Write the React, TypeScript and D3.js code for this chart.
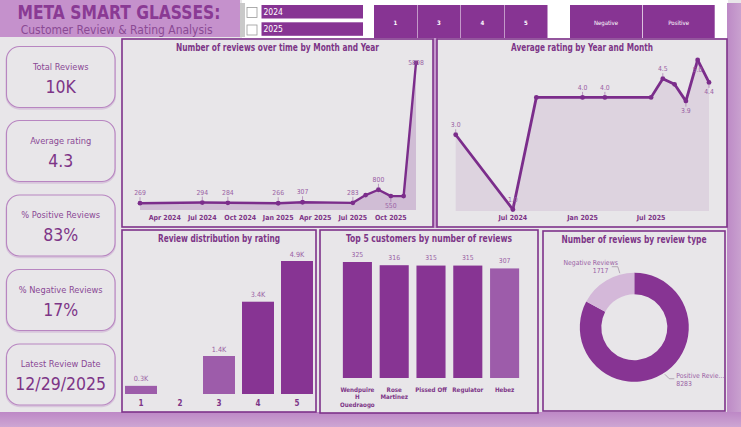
import React from 'react';
import * as d3 from 'd3';

// ---------- DATA ----------
const months = ['2024-02', '2024-07', '2024-09', '2025-01', '2025-03', '2025-07', '2025-08', '2025-09', '2025-10', '2025-11', '2025-12'];
const reviewCounts = [269, 294, 284, 266, 307, 283, 590, 800, 550, 549, 5808];
const countLabelPos = ['above', 'above', 'above', 'above', 'above', 'above', 'none', 'above', 'below', 'none', 'center'];
const avgRatings = [3.0, 1.0, 4.0, 4.0, 4.0, 4.0, 4.5, 4.35, 3.9, 5.0, 4.4];
const ratingLabelPos = ['above', 'above', 'none', 'above', 'above', 'none', 'above', 'none', 'below', 'below', 'below'];

const ratings = ['1', '2', '3', '4', '5'];
const ratingCounts = [300, 0, 1400, 3400, 4900];

const customers = ['Wendpuire H Ouedraogo', 'Rose Martinez', 'Pissed Off', 'Regulator', 'Hebez'];
const customerLines = [['Wendpuire', 'H', 'Ouedraogo'], ['Rose', 'Martinez'], ['Pissed Off'], ['Regulator'], ['Hebez']];
const customerCounts = [325, 316, 315, 315, 307];

const reviewTypes = ['Positive Reviews', 'Negative Reviews'];
const reviewTypeShort = ['Positive Revie...', 'Negative Reviews'];
const reviewTypeCounts = [8283, 1717];

const kpiLabels = ['Total Reviews', 'Average rating', '% Positive Reviews', '% Negative Reviews', 'Latest Review Date'];
const kpiValues = ['10K', '4.3', '83%', '17%', '12/29/2025'];

const years = ['2024', '2025'];
const ratingButtons = ['1', '3', '4', '5'];
const typeButtons = ['Negative', 'Positive'];

// ---------- STYLE ----------
const W = 741, H = 427;
const FONT = "'DejaVu Sans Condensed','DejaVu Sans',Roboto,sans-serif";
const DARK = '#873493';
const LIGHT = '#9d5caa';
const LINE = '#7b2d8b';
const BORDER = '#7e328a';
const PANEL = '#e8e6e9';
const LAV = '#c497cc';
const TXT = '#7d3587';
const LBL = '#9a62a5';

const parse = d3.timeParse('%Y-%m');
const dates = months.map(m => parse(m) as Date);

function Panel({ x, y, w, h, title, tw }: any) {
  return (
    <g>
      <rect x={x} y={y} width={w} height={h} fill={PANEL} stroke={BORDER} strokeWidth={1.6} />
      <text x={x + w / 2} y={y + 8.5} textAnchor="middle" dominantBaseline="central" fontFamily={FONT}
        fontWeight="bold" fontSize={10} fill={TXT} textLength={tw} lengthAdjust="spacingAndGlyphs">{title}</text>
    </g>
  );
}

function LineChart1() {
  const x = d3.scaleTime().domain([dates[0], dates[dates.length - 1]]).range([140, 416]);
  const y = d3.scaleLinear().domain([0, 5808]).range([210, 63]);
  const line = d3.line<number>().x((_, i) => x(dates[i])).y(d => y(d));
  const area = d3.area<number>().x((_, i) => x(dates[i])).y0(y(0)).y1(d => y(d));
  const ticks = x.ticks(d3.timeMonth.every(3) as any);
  const fmt = d3.timeFormat('%b %Y');
  return (
    <g>
      <Panel x={122} y={39} w={311} h={188} title="Number of reviews over time by Month and Year" tw={203} />
      <path d={area(reviewCounts) || ''} fill={LINE} fillOpacity={0.22} />
      <path d={line(reviewCounts) || ''} fill="none" stroke={LINE} strokeWidth={2.4} strokeLinejoin="round" />
      {reviewCounts.map((v, i) => (
        <circle key={i} cx={x(dates[i])} cy={y(v)} r={2.4} fill={LINE} />
      ))}
      {reviewCounts.map((v, i) => {
        const p = countLabelPos[i];
        if (p === 'none') return null;
        const px = x(dates[i]), py = y(v);
        const ly = p === 'above' ? py - 10 : p === 'below' ? py + 10 : py;
        return (
          <g key={i}>
            {p !== 'center' && <line x1={px} x2={px} y1={p === 'above' ? py - 2.5 : py + 2.5} y2={p === 'above' ? py - 6 : py + 6} stroke={LBL} strokeWidth={0.6} />}
            <text x={px} y={ly} textAnchor="middle" dominantBaseline="central" fontFamily={FONT} fontSize={6.8} fill={LBL}>{v}</text>
          </g>
        );
      })}
      {ticks.map((t, i) => (
        <text key={i} x={x(t)} y={218} textAnchor="middle" dominantBaseline="central" fontFamily={FONT}
          fontWeight="bold" fontSize={7} fill={TXT}>{fmt(t)}</text>
      ))}
    </g>
  );
}

function LineChart2() {
  const x = d3.scaleTime().domain([dates[0], dates[dates.length - 1]]).range([455.7, 709]);
  const y = d3.scaleLinear().domain([0.96, 5]).range([211, 60]);
  const line = d3.line<number>().x((_, i) => x(dates[i])).y(d => y(d));
  const area = d3.area<number>().x((_, i) => x(dates[i])).y0(y(0.96)).y1(d => y(d));
  const ticks = x.ticks(d3.timeMonth.every(6) as any);
  const fmt = d3.timeFormat('%b %Y');
  return (
    <g>
      <Panel x={437} y={39} w={290} h={188} title="Average rating by Year and Month" tw={142} />
      <path d={area(avgRatings) || ''} fill={LINE} fillOpacity={0.1} />
      <path d={line(avgRatings) || ''} fill="none" stroke={LINE} strokeWidth={2.8} strokeLinejoin="round" />
      {avgRatings.map((v, i) => (
        <circle key={i} cx={x(dates[i])} cy={y(v)} r={2.4} fill={LINE} />
      ))}
      {avgRatings.map((v, i) => {
        const p = ratingLabelPos[i];
        if (p === 'none') return null;
        const px = x(dates[i]), py = y(v);
        const ly = p === 'above' ? py - 9.5 : py + 9.5;
        return (
          <g key={i}>
            <line x1={px} x2={px} y1={p === 'above' ? py - 2.5 : py + 2.5} y2={p === 'above' ? py - 5.5 : py + 5.5} stroke={LBL} strokeWidth={0.6} />
            <text x={px} y={ly} textAnchor="middle" dominantBaseline="central" fontFamily={FONT} fontSize={6.8} fill={LBL}>{v.toFixed(1)}</text>
          </g>
        );
      })}
      {ticks.map((t, i) => (
        <text key={i} x={x(t)} y={218} textAnchor="middle" dominantBaseline="central" fontFamily={FONT}
          fontWeight="bold" fontSize={7} fill={TXT}>{fmt(t)}</text>
      ))}
    </g>
  );
}

function RatingBars() {
  const x = d3.scaleBand().domain(ratings).range([121.5, 316.5]).paddingInner(0.18).paddingOuter(0.09);
  const y = d3.scaleLinear().domain([0, 4900]).range([394, 261]);
  return (
    <g>
      <Panel x={122} y={230} w={194} h={182} title="Review distribution by rating" tw={122} />
      {ratings.map((r, i) => {
        const v = ratingCounts[i];
        if (!v) return null;
        return (
          <g key={r}>
            <rect x={x(r)} y={y(v)} width={x.bandwidth()} height={y(0) - y(v)} fill={v < 2000 ? LIGHT : DARK} />
            <text x={(x(r) as number) + x.bandwidth() / 2} y={y(v) - 7} textAnchor="middle" dominantBaseline="central"
              fontFamily={FONT} fontSize={7.2} fill={LBL}>{(v / 1000).toFixed(1)}K</text>
          </g>
        );
      })}
      {ratings.map(r => (
        <text key={r} x={(x(r) as number) + x.bandwidth() / 2} y={403} textAnchor="middle" dominantBaseline="central"
          fontFamily={FONT} fontWeight="bold" fontSize={8} fill={TXT}>{r}</text>
      ))}
    </g>
  );
}

function CustomerBars() {
  const x = d3.scaleBand().domain(customers).range([339, 523]).paddingInner(0.21).paddingOuter(0.105);
  const y = d3.scaleLinear().domain([0, 325]).range([378, 262]);
  return (
    <g>
      <Panel x={320} y={230} w={218} h={183} title="Top 5 customers by number of reviews" tw={166} />
      {customers.map((c, i) => {
        const v = customerCounts[i];
        const cx = (x(c) as number) + x.bandwidth() / 2;
        return (
          <g key={c}>
            <rect x={x(c)} y={y(v)} width={x.bandwidth()} height={y(0) - y(v)} fill={v < 310 ? LIGHT : DARK} />
            <text x={cx} y={y(v) - 7.5} textAnchor="middle" dominantBaseline="central" fontFamily={FONT} fontSize={6.8} fill={LBL}>{v}</text>
            {customerLines[i].map((ln, j) => (
              <text key={j} x={cx} y={389 + j * 7.8} textAnchor="middle" dominantBaseline="central" fontFamily={FONT}
                fontWeight="bold" fontSize={6.2} fill={TXT}>{ln}</text>
            ))}
          </g>
        );
      })}
    </g>
  );
}

function Donut() {
  const cx = 634.3, cy = 327.3, ro = 54.5, ri = 33;
  const pie = d3.pie<number>().sort(null).startAngle(0).endAngle(Math.PI * 2);
  const arcs = pie(reviewTypeCounts);
  const arc = d3.arc<d3.PieArcDatum<number>>().innerRadius(ri).outerRadius(ro);
  const colors = [DARK, '#d4b8d9'];
  const negA = -15 * Math.PI / 180;
  const posA = 147 * Math.PI / 180;
  const n0 = d3.pointRadial(negA, ro + 1.5);
  const p0 = d3.pointRadial(posA, ro + 1.5);
  const n1 = [n0[0] - 2, n0[1] - 6.5];
  const n2 = [n1[0] - 6, n1[1]];
  const p1 = [p0[0] + 4.5, p0[1] + 4.5];
  const p2 = [p1[0] + 5, p1[1]];
  return (
    <g>
      <Panel x={543} y={231} w={182} h={180} title="Number of reviews by review type" tw={145} />
      <g transform={`translate(${cx},${cy})`}>
        {arcs.map((a, i) => (
          <path key={i} d={arc(a) || ''} fill={colors[i]} />
        ))}
        <polyline points={[n0, n1, n2].map(p => p.join(',')).join(' ')} fill="none" stroke="#9a8a9e" strokeWidth={0.7} />
        <polyline points={[p0, p1, p2].map(p => p.join(',')).join(' ')} fill="none" stroke="#9a8a9e" strokeWidth={0.7} />
        <text x={n2[0] + 6} y={n2[1] - 3.5} textAnchor="end" dominantBaseline="central" fontFamily={FONT} fontSize={6.8} fill={LBL}>{reviewTypeShort[1]}</text>
        <text x={n2[0] - 3.5} y={n2[1] + 4} textAnchor="end" dominantBaseline="central" fontFamily={FONT} fontSize={6.8} fill={LBL}>{reviewTypeCounts[1]}</text>
        <text x={p2[0] + 2} y={p2[1] - 2.5} textAnchor="start" dominantBaseline="central" fontFamily={FONT} fontSize={6.8} fill={LBL}>{reviewTypeShort[0]}</text>
        <text x={p2[0] + 2} y={p2[1] + 5.5} textAnchor="start" dominantBaseline="central" fontFamily={FONT} fontSize={6.8} fill={LBL}>{reviewTypeCounts[0]}</text>
      </g>
    </g>
  );
}

function Kpis() {
  const tops = [46.5, 120.5, 195, 269.5, 344];
  return (
    <g>
      {kpiLabels.map((l, i) => (
        <g key={l}>
          <rect x={6.5} y={tops[i] + 1.2} width={108.5} height={61} rx={13} fill="none" stroke="#d8c6dc" strokeWidth={2} />
          <rect x={6.5} y={tops[i]} width={108.5} height={61} rx={13} fill={PANEL} stroke="#b886c1" strokeWidth={1.1} />
          <text x={60.7} y={tops[i] + 19.5} textAnchor="middle" dominantBaseline="central" fontFamily={FONT} fontSize={9.2} fill="#8a4995">{l}</text>
          <text x={60.7} y={tops[i] + 40} textAnchor="middle" dominantBaseline="central" fontFamily={FONT} fontSize={17.5} fill={TXT}>{kpiValues[i]}</text>
        </g>
      ))}
    </g>
  );
}

function Header() {
  return (
    <g>
      <rect x={0} y={0} width={240} height={37} fill="#c591cc" />
      <rect x={240} y={3} width={5} height={34} fill="#c9c9c9" />
      <text x={17.5} y={18.8} fontFamily={FONT} fontWeight="bold" fontSize={20} fill="#8a3a94" textLength={203} lengthAdjust="spacingAndGlyphs">META SMART GLASSES:</text>
      <text x={20.7} y={33.5} fontFamily={FONT} fontSize={11.5} fill="#8a4a94" textLength={192} lengthAdjust="spacingAndGlyphs">Customer Review &amp; Rating Analysis</text>
      {years.map((yr, i) => (
        <g key={yr}>
          <rect x={247} y={7.5 + i * 17.5} width={10} height={10} fill="#fff" stroke="#9a9a9a" strokeWidth={0.8} />
          <rect x={261.5} y={5 + i * 17.3} width={101.5} height={13.5} fill={DARK} />
          <text x={263.5} y={12 + i * 17.3} dominantBaseline="central" fontFamily={FONT} fontSize={8.5} fill="#fff">{yr}</text>
        </g>
      ))}
      {ratingButtons.map((b, i) => {
        const bx = 374 + i * 43.5;
        return (
          <g key={b}>
            <rect x={bx} y={5} width={43} height={33} fill={DARK} />
            <text x={bx + 21.5} y={22} textAnchor="middle" dominantBaseline="central" fontFamily={FONT} fontWeight="bold" fontSize={6} fill="#fff">{b}</text>
          </g>
        );
      })}
      {typeButtons.map((b, i) => {
        const bx = 570 + i * 72.7;
        return (
          <g key={b}>
            <rect x={bx} y={5} width={72} height={33} fill={DARK} />
            <text x={bx + 36} y={22} textAnchor="middle" dominantBaseline="central" fontFamily={FONT} fontSize={6} fill="#fff">{b}</text>
          </g>
        );
      })}
    </g>
  );
}

export default function App() {
  return (
    <div style={{ position: 'absolute', left: 0, top: 0, width: W, height: H }}>
      <svg width={W} height={H} viewBox={`0 0 ${W} ${H}`} style={{ display: 'block' }}>
        <defs>
          <linearGradient id="bottomGrad" x1="0" y1="0" x2="0" y2="1">
            <stop offset="0" stopColor="#bd88c6" />
            <stop offset="1" stopColor="#cda6d3" />
          </linearGradient>
          <linearGradient id="rightGrad" x1="0" y1="0" x2="1" y2="0">
            <stop offset="0" stopColor="#bd8ac6" />
            <stop offset="1" stopColor="#c9a1cf" />
          </linearGradient>
        </defs>
        <rect x={0} y={0} width={W} height={H} fill={PANEL} />
        <rect x={242} y={0} width={486} height={38} fill="#ffffff" />
        <rect x={727} y={3} width={14} height={H - 3} fill="url(#rightGrad)" />
        <rect x={433} y={38} width={5} height={190} fill={LAV} />
        <rect x={0} y={412} width={W} height={15} fill="url(#bottomGrad)" />
        <Header />
        <Kpis />
        <LineChart1 />
        <LineChart2 />
        <RatingBars />
        <CustomerBars />
        <Donut />
      </svg>
    </div>
  );
}
